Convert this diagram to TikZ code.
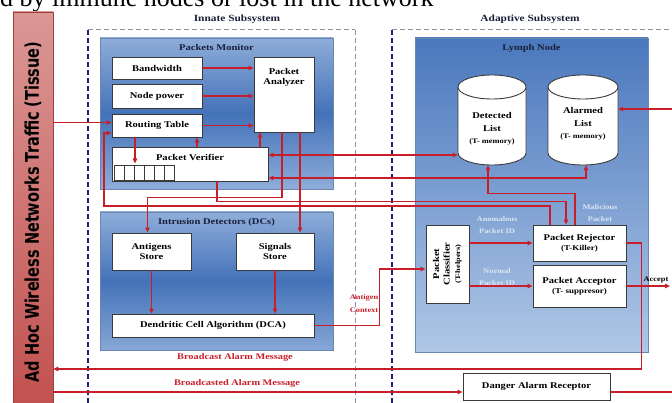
\documentclass[tikz,border=0pt]{standalone}
\usepackage{fontspec}
\usepackage{graphicx}
\setmainfont{Liberation Serif}
\newfontfamily\widefont[FakeStretch=1.2]{Liberation Serif}
\newfontfamily\tissuefont{DejaVu Sans}
\usetikzlibrary{arrows.meta}
\definecolor{linered}{HTML}{C81E2A}
\definecolor{boxedge}{HTML}{3A3A3A}
\definecolor{paneledge}{HTML}{6A86AE}
\definecolor{monlight}{HTML}{8EADD9}
\definecolor{mondark}{HTML}{4472B9}
\definecolor{lymphtop}{HTML}{4A78BD}
\definecolor{lymphbot}{HTML}{B0C7E6}
\definecolor{pale}{HTML}{DCE5F2}
\definecolor{navy}{HTML}{1E1E78}
\definecolor{dashgray}{HTML}{8C90A0}
\definecolor{tissuetop}{HTML}{DB9795}
\definecolor{tissuebot}{HTML}{C1504E}
\definecolor{titleink}{HTML}{1A1F3A}
\tikzset{
  flow/.style={draw=linered, line width=1.2pt, -{Triangle[length=5pt,width=4.5pt]}},
  flow2/.style={flow, {Triangle[length=5pt,width=4.5pt]}-{Triangle[length=5pt,width=4.5pt]}},
  link/.style={draw=linered, line width=1.2pt},
  wbox/.style={draw=boxedge, fill=white, line width=0.9pt, inner sep=1pt, align=center,
    font=\widefont\bfseries\fontsize{8.8}{10.5}\selectfont},
  boxlbl/.style={align=center, font=\widefont\bfseries\fontsize{8.8}{10.5}\selectfont},
  panel/.style={draw=paneledge, line width=0.7pt, inner sep=0pt},
  paneltitle/.style={anchor=north, yshift=-3pt, text=titleink,
    font=\widefont\bfseries\fontsize{8.8}{10}\selectfont},
  headtext/.style={text=titleink, font=\widefont\bfseries\fontsize{9.5}{11}\selectfont},
  navydash/.style={draw=navy, line width=1.3pt, dash pattern=on 5pt off 3pt},
  graydash/.style={draw=dashgray, line width=1pt, dash pattern=on 5pt off 3pt},
  cylbody/.style={draw=boxedge, fill=white, line width=0.9pt},
  cylnode/.style={inner sep=0pt, minimum height=66pt},
  cyltext/.style={align=center, font=\widefont\bfseries\fontsize{8.8}{12.5}\selectfont},
  redlbl/.style={text=linered, font=\widefont\bfseries\fontsize{8.6}{10}\selectfont},
  redsmall/.style={text=linered, align=center, font=\widefont\bfseries\fontsize{7}{13}\selectfont},
  palelbl/.style={text=pale, align=center, font=\widefont\bfseries\fontsize{7}{12}\selectfont},
  tissuebar/.style={draw=tissuebot!80!black, line width=0.5pt, top color=tissuetop, bottom color=tissuebot}
}
\newcommand{\tsmall}{\fontsize{7.5}{9}\selectfont}
\begin{document}
\begin{tikzpicture}[x=1pt, y=-1pt]
\useasboundingbox (0,0) rectangle (672,403);
% cut line of page text
\node[anchor=base west, inner sep=0pt, font=\fontsize{26}{26}\selectfont] (pagetext) at (0,7) {d by immune nodes or lost in the network};
% tissue
\node[tissuebar, minimum width=40pt, minimum height=400pt] (tissue) at (33,212)
  {\rotatebox{90}{\scalebox{1}[1.3]{\tissuefont\bfseries\fontsize{14.5}{15}\selectfont Ad Hoc Wireless Networks Traffic (Tissue)}}};
% subsystems
\draw[graydash] (88,30) -- (355,30);
\draw[graydash] (355,30) -- (355,403);
\draw[navydash] (88,30) -- (88,403);
\draw[graydash] (392,30) -- (672,30);
\draw[navydash] (392,30) -- (392,403);
\node[headtext] (innate) at (237,19) {Innate Subsystem};
\node[headtext] (adaptive) at (530,19) {Adaptive Subsystem};
% panels
\node[panel, minimum width=233pt, minimum height=151pt, top color=monlight, bottom color=monlight, middle color=mondark,
  label={[paneltitle]north:Packets Monitor}] (monitor) at (216.5,113.5) {};
\node[panel, minimum width=233pt, minimum height=138pt, top color=monlight, bottom color=monlight!90!mondark, middle color=mondark,
  label={[paneltitle]north:Intrusion Detectors (DCs)}] (detectors) at (216.5,281) {};
\node[panel, minimum width=233pt, minimum height=314pt, top color=lymphtop, bottom color=lymphbot,
  label={[paneltitle]north:Lymph Node}] (lymph) at (531.5,195) {};
% packets monitor
\node[wbox, minimum width=90pt, minimum height=22pt] (bw) at (157,68) {Bandwidth};
\node[wbox, minimum width=90pt, minimum height=24pt] (np) at (157,96) {Node power};
\node[wbox, minimum width=90pt, minimum height=23pt] (rt) at (157,125.5) {Routing Table};
\node[wbox, minimum width=60pt, minimum height=75pt,
  label={[boxlbl, anchor=north, yshift=-8pt]north:{Packet\\Analyzer}}] (pa) at (284,94.5) {};
\node[wbox, minimum width=156pt, minimum height=34pt,
  label={[boxlbl, anchor=north, yshift=-4pt]north:Packet Verifier}] (pv) at (190,164) {};
\foreach \i in {0,...,5}
  \draw[draw=boxedge, line width=0.8pt] ([xshift={3pt+10pt*\i}, yshift=1.5pt]pv.south west) rectangle ++(10,-15);
% intrusion detectors
\node[wbox, minimum width=79pt, minimum height=37pt] (as) at (151.5,251.5) {Antigens\\Store};
\node[wbox, minimum width=78pt, minimum height=37pt] (ss) at (275,251.5) {Signals\\Store};
\node[wbox, minimum width=202pt, minimum height=23pt] (dca) at (213,325.5) {Dendritic Cell Algorithm (DCA)};
% lymph node
\foreach \cx/\cw in {492/34, 583/35}{
  \filldraw[cylbody] (\cx-\cw,87) -- (\cx-\cw,153) arc[start angle=180, end angle=360, x radius=\cw pt, y radius=12pt]
    -- (\cx+\cw,87) arc[start angle=0, end angle=180, x radius=\cw pt, y radius=12pt] -- cycle;
  \draw[cylbody] (\cx-\cw,87) arc[start angle=180, end angle=360, x radius=\cw pt, y radius=12pt];
}
\node[cylnode, minimum width=68pt, label={[cyltext, yshift=-9pt]center:{Detected\\List\\{\fontsize{7}{8}\selectfont (T- memory)}}}] (dl) at (492,120) {};
\node[cylnode, minimum width=70pt, label={[cyltext, yshift=-4pt]center:{Alarmed\\List\\{\fontsize{7}{8}\selectfont (T- memory)}}}] (al) at (583,120) {};
\coordinate (dlb) at ([yshift=-12pt]dl.south);
\coordinate (alb) at ([yshift=-12pt]al.south);
\node[wbox, minimum width=43pt, minimum height=78pt] (pc) at (447.5,264)
  {\rotatebox{90}{\begin{tabular}{@{}c@{}}Packet\\Classifier\\{\fontsize{7}{8}\selectfont (T-helpers)}\end{tabular}}};
\node[wbox, minimum width=93pt, minimum height=36pt] (pr) at (579.5,243) {Packet Rejector\\{\tsmall (T-Killer)}};
\node[wbox, minimum width=93pt, minimum height=42pt] (pacc) at (579.5,286) {Packet Acceptor\\{\tsmall (T- suppresor)}};
\node[wbox, minimum width=147pt, minimum height=27pt] (dar) at (536.5,386.5) {Danger Alarm Receptor};
% connections
\draw[flow] (bw.east) -- (bw.east -| pa.west);
\draw[flow] (np.east) -- (np.east -| pa.west);
\draw[flow] (rt.east) -- (rt.east -| pa.west);
\coordinate (rtin) at ([yshift=3pt]rt.west);
\draw[flow] (tissue.east |- rtin) -- (rtin);
\draw[flow] ([xshift=-22pt]rt.south) -- ++(0,26);
\draw[flow] ([xshift=7pt]pv.north) -- ([xshift=7pt]pv.north |- rt.south);
\draw[flow] ([xshift=-24pt]pa.south |- pv.north) -- ([xshift=-24pt]pa.south);
\draw[flow] ([xshift=-2pt]pa.south) -- ++(0,65) -| ([xshift=-4pt]as.north);
\draw[flow] ([xshift=16pt]pa.south) -- ([xshift=16pt]pa.south |- ss.north);
\draw[flow] ([xshift=27pt]pv.south) -- ++(0,20) -| ([xshift=-13.5pt]pr.north);
\coordinate (rtback) at ([yshift=-7.5pt]rt.west);
\draw[flow] ([xshift=-29.5pt]pr.north) |- (104,206) |- (rtback);
\coordinate (v1) at ([yshift=9pt]pv.east);
\draw[flow2] (v1) -- (v1 -| dl.west);
\coordinate (v2) at ([yshift=-14pt]pv.east);
\draw[flow2] (v2) -| ([xshift=3pt]alb);
\draw[flow] ([xshift=-4.5pt]pr.north) -- ++(0,-31) -| ([xshift=-4pt]dlb);
\draw[flow] (as) -- (as |- dca.north);
\draw[flow] (ss) -- (ss |- dca.north);
\draw[flow] (dca.east) -- ++(65,0) |- ([yshift=-5pt]pc.west);
\draw[flow] (pc.east |- pr.west) -- (pr.west);
\draw[flow] (pc.east |- pacc.west) -- (pacc.west);
\coordinate (acceptout) at (670,286);
\draw[flow] (pacc.east) -- (acceptout);
\coordinate (bcast) at (200,369);
\draw[flow] (pr.east) -- ++(15,0) |- (tissue.east |- bcast);
\coordinate (darin) at ([yshift=-5.5pt]dar.west);
\draw[flow] (tissue.east |- darin) -- (darin);
\coordinate (darout) at (672,392);
\draw[link] (dar.east |- darin) -- (darout);
\coordinate (alin) at (672,109);
\draw[flow] (alin) -- (alin -| al.east);
% labels
\node[redlbl] (bcasttext) at (235,357) {Broadcast Alarm Message};
\node[redlbl] (rcvtext) at (237,383) {Broadcasted Alarm Message};
\node[redsmall] (ctx) at (364,304) {Antigen\\Context};
\node[palelbl] (anomtext) at (497,225.5) {Anomalous\\Packet ID};
\node[palelbl] (normtext) at (497,277) {Normal\\Packet ID};
\node[palelbl] (maltext) at (600,213) {Malicious\\Packet};
\node[font=\widefont\bfseries\fontsize{7}{8}\selectfont] (accepttext) at (656,280) {Accept};
\end{tikzpicture}
\end{document}
